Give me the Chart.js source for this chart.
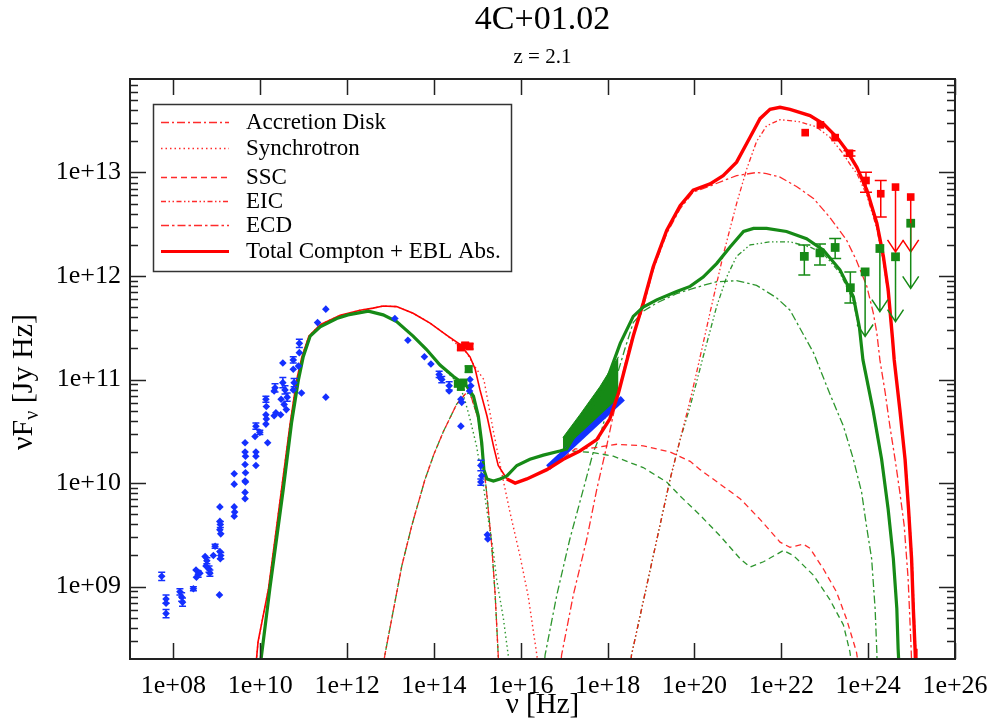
<!DOCTYPE html>
<html><head><meta charset="utf-8">
<script src="https://cdn.jsdelivr.net/npm/chart.js@4.4.0/dist/chart.umd.min.js"></script>
<style>html,body{margin:0;padding:0;background:#fff;}#wrap{width:994px;height:722px;}</style>
</head><body><div id="wrap"><canvas id="c" width="994" height="722"></canvas></div>
<script>
// ---------- DATA (log10 nu [Hz], log10 nuFnu [Jy Hz]) ----------
const titleText = '4C+01.02';
const subTitleText = 'z = 2.1';
const xTitleText = 'ν [Hz]';
const xTickExp = [8,10,12,14,16,18,20,22,24,26];
const yTickExp = [9,10,11,12,13];
const legendLabels = ['Accretion Disk','Synchrotron','SSC','EIC','ECD','Total Compton + EBL Abs.'];

const blueLogNu = [7.73,7.83,7.83,7.83,8.15,8.19,8.21,8.46, 8.52,8.57,8.53,8.61, 8.73,8.77,8.75,8.82,8.84, 8.92,8.96,9.06, 9.07,9.07,9.08,9.07,9.09,9.07,9.09,9.08, 9.40,9.40,9.40,9.41,9.40, 9.65,9.65,9.66,9.65,9.66,9.65,9.66,9.65,9.65, 9.90,9.99,9.88,9.90,9.90,9.90, 10.17, 10.13,10.14,10.13,10.14,10.13, 10.34,10.32,10.32,10.36,10.47, 10.52,10.52,10.57,10.62,10.55,10.60,10.48, 10.76,10.76,10.78,10.76, 10.90,10.90,10.88,10.95, 11.32,11.51,11.51, 13.10,13.40,13.78,13.93, 14.12,14.14,14.18, 14.35,14.35, 14.62,14.64,14.62, 14.83,14.85,14.82, 15.08,15.10,15.08, 15.23,15.24];
const blueLogF = [9.10,8.88,8.84,8.74,8.95,8.90,8.85,8.98, 9.16,9.12,9.09,9.13, 9.29,9.25,9.20,9.17,9.13, 9.30,9.39,8.92, 9.77,9.63,9.60,9.55,9.51,9.34,9.30,9.27, 10.09,9.99,9.77,9.72,9.68, 10.39,10.30,10.26,10.18,10.10,10.02,10.01,9.91,9.85, 10.55,10.49,10.45,10.30,10.26,10.17, 10.39, 10.81,10.74,10.66,10.62,10.57, 10.92,10.89,10.65,10.68,10.66, 11.16,10.97,10.90,10.83,10.76,10.71,10.81, 11.19,11.10,10.97,10.90, 11.35,11.26,11.13,10.87, 11.55,11.68,10.83, 11.59,11.38,11.22,11.15, 11.05,11.02,11.00, 10.94,10.89, 10.81,10.78,10.55, 11.00,10.94,10.89, 10.17,10.07,10.01, 9.50,9.46];
const blueErr = [0.04,0.04,0,0.04,0.03,0.04,0.04,0.02, 0,0.03,0,0, 0,0.03,0,0.03,0.03, 0,0.02,0, 0,0,0.03,0,0,0,0.03,0, 0,0,0,0,0, 0,0,0,0,0,0,0,0,0, 0.03,0.02,0,0,0,0, 0, 0.03,0,0,0,0, 0.04,0,0,0,0, 0,0.05,0.04,0.04,0,0,0, 0.03,0,0.04,0, 0.04,0,0,0, 0,0,0, 0,0,0,0, 0.03,0,0.03, 0.04,0, 0,0,0, 0,0,0, 0.05,0,0.03, 0,0];

const blueXray = [[16.63,10.15],[18.35,10.82]];
const bowLogNu = [16.97,17.36,17.82,18.25];
const bowUpLogF = [10.44,10.66,10.93,11.22];
const bowLoLogF = [10.32,10.43,10.61,10.78];

const redOptLogNu = [14.62,14.72,14.82];
const redOptLogF = [11.31,11.33,11.32];
const grnOptLogNu = [14.55,14.62,14.68,14.80];
const grnOptLogF = [10.96,10.93,10.97,11.10];

const redGamLogNu = [22.55,22.90,23.24,23.57,23.95,24.29];
const redGamLogF  = [13.385,13.46,13.337,13.186,12.923,12.795];
const redGamLo    = [13.385,13.46,13.337,13.16,12.81,12.57];
const redGamHi    = [13.385,13.46,13.337,13.21,13.003,12.923];
const redUlLogNu = [24.63,24.98];
const redUlLogF  = [12.859,12.763];
const redUlTip   = [12.234,12.234];

const grnGamLogNu = [22.53,22.89,23.24,23.59];
const grnGamLogF  = [12.19,12.224,12.276,11.887];
const grnGamLo    = [12.01,12.106,12.17,11.74];
const grnGamHi    = [12.30,12.31,12.362,12.04];
const grnUlLogNu = [23.93,24.27,24.63,24.98];
const grnUlLogF  = [12.04,12.266,12.186,12.51];
const grnUlTip   = [11.416,11.657,11.56,11.88];

const redTotal = [[9.88,8.15],[9.95,8.47],[10.19,8.98],[10.49,9.94],[10.69,10.58],[10.84,11.00],[10.96,11.22],[11.12,11.42],[11.38,11.53],[11.84,11.62],[12.30,11.67],[12.60,11.69],[12.83,11.71],[13.14,11.705],[13.52,11.64],[13.91,11.545],[14.29,11.43],[14.60,11.34],[14.83,11.22],[14.95,11.10],[15.06,10.90],[15.22,10.65],[15.37,10.36],[15.48,10.17],[15.68,10.04],[15.87,10.00],[16.14,10.04],[16.60,10.13],[16.98,10.23],[17.36,10.31],[17.75,10.42],[18.05,10.62],[18.25,10.87],[18.59,11.42],[18.82,11.74],[19.05,12.09],[19.36,12.44],[19.67,12.68],[19.97,12.83],[20.36,12.89],[20.66,12.97],[20.97,13.10],[21.28,13.34],[21.51,13.52],[21.74,13.61],[21.97,13.63],[22.20,13.61],[22.66,13.55],[22.97,13.47],[23.28,13.34],[23.51,13.21],[23.74,13.05],[23.97,12.83],[24.20,12.51],[24.35,12.19],[24.46,11.87],[24.56,11.40],[24.60,11.19],[24.73,10.71],[24.85,10.23],[24.93,9.75],[25.00,9.27],[25.04,8.79],[25.08,8.40],[25.10,8.15]];
const grnTotal = [[9.98,8.15],[10.03,8.34],[10.22,8.98],[10.53,9.94],[10.72,10.58],[10.88,11.00],[10.99,11.22],[11.15,11.42],[11.38,11.51],[11.76,11.59],[12.02,11.625],[12.49,11.66],[12.83,11.625],[13.14,11.56],[13.52,11.42],[13.83,11.29],[14.14,11.14],[14.45,11.03],[14.75,10.94],[14.91,10.84],[15.02,10.65],[15.10,10.39],[15.15,10.13],[15.22,10.04],[15.37,10.02],[15.52,10.04],[15.68,10.07],[15.91,10.17],[16.21,10.23],[16.52,10.27],[16.90,10.31],[17.06,10.33],[17.59,10.71],[17.90,10.90],[18.29,11.35],[18.59,11.61],[18.82,11.70],[19.13,11.77],[19.59,11.85],[19.90,11.90],[20.20,11.99],[20.51,12.12],[20.82,12.28],[21.13,12.43],[21.36,12.46],[21.66,12.46],[22.12,12.43],[22.58,12.36],[22.97,12.25],[23.35,12.06],[23.66,11.80],[23.80,11.50],[23.88,11.19],[24.11,10.71],[24.31,10.23],[24.46,9.75],[24.58,9.27],[24.66,8.79],[24.69,8.40],[24.72,8.15]];

const redSyn = [[9.88,8.15],[9.95,8.47],[10.19,8.98],[10.49,9.94],[10.69,10.58],[10.84,11.00],[10.96,11.22],[11.12,11.42],[11.38,11.53],[11.84,11.62],[12.30,11.67],[12.60,11.69],[12.83,11.71],[13.14,11.705],[13.52,11.64],[13.91,11.545],[14.29,11.43],[14.75,11.26],[14.98,11.10],[15.15,11.00],[15.36,10.52],[15.56,10.10],[15.75,9.72],[15.98,9.30],[16.17,8.91],[16.37,8.34],[16.42,8.15]];
const grnSyn = [[9.98,8.15],[10.03,8.34],[10.22,8.98],[10.53,9.94],[10.72,10.58],[10.88,11.00],[10.99,11.22],[11.15,11.42],[11.38,11.51],[11.76,11.59],[12.02,11.625],[12.49,11.66],[12.83,11.625],[13.14,11.56],[13.52,11.42],[13.83,11.29],[14.14,11.14],[14.45,11.01],[14.60,10.93],[14.70,10.82],[14.83,10.62],[14.98,10.36],[15.14,9.97],[15.25,9.65],[15.37,9.33],[15.44,9.08],[15.60,8.69],[15.71,8.34],[15.76,8.15]];
const disk = [[12.80,8.15],[12.87,8.34],[13.06,8.76],[13.26,9.20],[13.49,9.59],[13.79,10.03],[14.00,10.28],[14.22,10.50],[14.52,10.76],[14.72,10.86],[14.83,10.87],[15.02,10.62],[15.14,10.20],[15.22,9.88],[15.33,9.40],[15.41,8.92],[15.48,8.34],[15.50,8.15]];
const redSSC = [[17.00,10.25],[17.25,10.33],[17.67,10.34],[18.21,10.375],[18.82,10.36],[19.44,10.30],[19.90,10.21],[20.13,10.13],[20.59,9.99],[21.05,9.85],[21.51,9.65],[21.97,9.43],[22.20,9.38],[22.51,9.41],[22.66,9.37],[22.97,9.17],[23.27,8.95],[23.50,8.69],[23.73,8.37],[23.81,8.15]];
const grnSSC = [[16.97,10.31],[17.17,10.31],[17.67,10.295],[18.13,10.26],[18.82,10.15],[19.36,10.01],[19.67,9.875],[20.13,9.69],[20.59,9.49],[21.05,9.27],[21.28,9.19],[21.59,9.24],[22.05,9.35],[22.28,9.30],[22.74,9.11],[23.11,8.88],[23.43,8.63],[23.58,8.37],[23.65,8.15]];
const redEIC = [[18.50,8.15],[18.55,8.34],[19.00,9.20],[19.44,10.04],[19.67,10.42],[19.90,10.80],[20.05,11.07],[20.36,11.65],[20.66,12.20],[20.97,12.70],[21.20,13.03],[21.43,13.30],[21.66,13.45],[21.97,13.51],[22.43,13.49],[22.81,13.44],[23.12,13.34],[23.43,13.18],[23.58,13.08],[23.74,12.99],[23.97,12.78],[24.20,12.46],[24.35,12.14],[24.46,11.82],[24.56,11.36],[24.62,11.10],[24.75,10.66],[24.87,10.18],[24.95,9.70],[25.02,9.22],[25.06,8.74],[25.10,8.36],[25.12,8.15]];
const grnEIC = [[18.50,8.15],[18.55,8.34],[19.00,9.20],[19.44,10.04],[19.67,10.42],[19.90,10.74],[20.20,11.22],[20.51,11.705],[20.74,11.99],[20.97,12.19],[21.28,12.30],[21.74,12.33],[22.20,12.33],[22.66,12.28],[22.96,12.22],[23.35,12.03],[23.65,11.77],[23.80,11.48],[23.88,11.17],[24.11,10.69],[24.31,10.21],[24.46,9.73],[24.58,9.25],[24.66,8.77],[24.69,8.38],[24.71,8.15]];
const redECD = [[16.90,8.15],[16.94,8.34],[17.21,8.92],[17.52,9.46],[17.75,9.94],[17.98,10.36],[18.09,10.58],[18.21,10.81],[18.51,11.34],[18.82,11.70],[19.05,12.06],[19.36,12.41],[19.67,12.65],[19.97,12.81],[20.36,12.87],[20.66,12.92],[20.97,12.97],[21.43,13.00],[21.66,12.99],[21.97,12.955],[22.35,12.865],[22.74,12.75],[23.11,12.57],[23.50,12.35],[23.73,12.15],[23.97,11.90],[24.12,11.64],[24.20,11.45],[24.27,11.19],[24.39,10.88],[24.50,10.55],[24.62,10.23],[24.73,9.91],[24.83,9.59],[24.92,9.08],[24.99,8.40],[25.01,8.15]];
const grnECD = [[16.52,8.15],[16.56,8.34],[16.83,8.92],[17.13,9.46],[17.44,9.94],[17.67,10.30],[17.82,10.45],[18.00,10.72],[18.20,11.02],[18.40,11.30],[18.59,11.55],[18.82,11.66],[19.13,11.74],[19.59,11.83],[19.90,11.87],[20.20,11.91],[20.51,11.945],[20.97,11.955],[21.43,11.91],[21.89,11.79],[22.20,11.67],[22.74,11.26],[23.11,10.87],[23.43,10.55],[23.66,10.23],[23.85,9.91],[23.96,9.59],[24.08,9.27],[24.16,8.79],[24.20,8.37],[24.21,8.15]];

// ---------- STYLE ----------
const FONT = "'Liberation Serif', 'Times New Roman', serif";
const RED = '#ff0000', GRN = '#168a16', BLU = '#1430ff';
const cRed = 'rgba(255,20,20,0.9)', cGrn = 'rgba(22,138,22,0.9)';
const DASH = {disk:[8,3,2,3], syn:[1.5,3], ssc:[6,4], eic:[5,2.5,1.5,2.5,1.5,2.5], ecd:[8,3,2.5,3]};

const pw = a => a.map(p => ({x: Math.pow(10, p[0]), y: Math.pow(10, p[1])}));
const pw2 = (xs, ys) => xs.map((v, i) => ({x: Math.pow(10, v), y: Math.pow(10, ys[i])}));

function lineDS(data, color, width, dash, order, offset) {
  return {data: pw(data), showLine: true, borderColor: color, borderWidth: width, borderDash: dash || [],
    borderDashOffset: offset || 0, pointRadius: 0, fill: false, order: order, tension: 0, borderCapStyle: 'butt'};
}
const datasets = [];
datasets.push(lineDS(disk, cRed, 1.3, DASH.disk, 30));
datasets.push(lineDS(disk, cGrn, 1.3, DASH.disk, 31, 7));
datasets.push(lineDS(redSyn, cRed, 1.4, DASH.syn, 30));
datasets.push(lineDS(grnSyn, cGrn, 1.4, DASH.syn, 30));
datasets.push(lineDS(redSSC, cRed, 1.3, DASH.ssc, 30));
datasets.push(lineDS(grnSSC, cGrn, 1.3, DASH.ssc, 30));
datasets.push(lineDS(redEIC, cRed, 1.3, DASH.eic, 30));
datasets.push(lineDS(grnEIC, cGrn, 1.3, DASH.eic, 30));
datasets.push(lineDS(redECD, cRed, 1.3, DASH.ecd, 30));
datasets.push(lineDS(grnECD, cGrn, 1.3, DASH.ecd, 30));
const loIdx = datasets.length;
datasets.push({data: pw2(bowLogNu, bowLoLogF), showLine: true, borderColor: GRN, borderWidth: 1, pointRadius: 0, fill: false, order: 20});
datasets.push({data: pw2(bowLogNu, bowUpLogF), showLine: true, borderColor: GRN, borderWidth: 1, pointRadius: 0, fill: {target: loIdx}, backgroundColor: GRN, order: 20});
datasets.push({data: pw(blueXray), showLine: true, borderColor: BLU, borderWidth: 6, pointRadius: 0, order: 19, borderCapStyle: 'butt'});
datasets.push({data: pw(redTotal), showLine: true, borderColor: RED, borderWidth: 3.2, pointRadius: 0, order: 11, tension: 0,
  segment: {borderWidth: c => (c.p0.parsed.x < Math.pow(10, 15.55) ? 1.6 : 3.4)}});
datasets.push({data: pw(grnTotal), showLine: true, borderColor: GRN, borderWidth: 3.2, pointRadius: 0, order: 10, tension: 0});
datasets.push({data: pw2(blueLogNu, blueLogF), showLine: false, pointStyle: 'rectRot', pointRadius: 3.8, backgroundColor: BLU, borderWidth: 0, order: 3});
datasets.push({data: pw2(redOptLogNu, redOptLogF), showLine: false, pointStyle: 'rect', pointRadius: 5.6, backgroundColor: RED, borderWidth: 0, order: 2});
datasets.push({data: pw2(grnOptLogNu, grnOptLogF), showLine: false, pointStyle: 'rect', pointRadius: 5.6, backgroundColor: GRN, borderWidth: 0, order: 2});
datasets.push({data: pw2(redGamLogNu.concat(redUlLogNu), redGamLogF.concat(redUlLogF)), showLine: false, pointStyle: 'rect', pointRadius: 5.4, backgroundColor: RED, borderWidth: 0, order: 2});
datasets.push({data: pw2(grnGamLogNu.concat(grnUlLogNu), grnGamLogF.concat(grnUlLogF)), showLine: false, pointStyle: 'rect', pointRadius: 6.2, backgroundColor: GRN, borderWidth: 0, order: 2});

// ---------- PLUGINS ----------
const P10 = v => Math.pow(10, v);
const frame = {
  id: 'frame',
  afterDatasetsDraw(chart) {
    const {ctx, chartArea: a, scales: {x, y}} = chart;
    ctx.save();
    function bar(xs, lo, hi, col, cap) {
      ctx.strokeStyle = col; ctx.lineWidth = 1.5; ctx.beginPath();
      xs.forEach((v, i) => {
        if (hi[i] - lo[i] < 0.001) return;
        const px = x.getPixelForValue(P10(v)), p1 = y.getPixelForValue(P10(lo[i])), p2 = y.getPixelForValue(P10(hi[i]));
        ctx.moveTo(px, p1); ctx.lineTo(px, p2);
        ctx.moveTo(px - cap, p1); ctx.lineTo(px + cap, p1);
        ctx.moveTo(px - cap, p2); ctx.lineTo(px + cap, p2);
      });
      ctx.stroke();
    }
    function ul(xs, fs, tips, col) {
      ctx.strokeStyle = col; ctx.lineWidth = 1.5; ctx.beginPath();
      xs.forEach((v, i) => {
        const px = x.getPixelForValue(P10(v)), p1 = y.getPixelForValue(P10(fs[i])), p2 = y.getPixelForValue(P10(tips[i]));
        ctx.moveTo(px, p1); ctx.lineTo(px, p2);
        ctx.moveTo(px - 8, p2 - 12); ctx.lineTo(px, p2); ctx.lineTo(px + 8, p2 - 12);
      });
      ctx.stroke();
    }
    bar(blueLogNu, blueLogF.map((f, i) => f - blueErr[i]), blueLogF.map((f, i) => f + blueErr[i]), BLU, 3.5);
    bar(redOptLogNu, redOptLogF.map(f => f - 0.025), redOptLogF.map(f => f + 0.025), RED, 4);
    bar(grnOptLogNu, grnOptLogF.map(f => f - 0.03), grnOptLogF.map(f => f + 0.03), GRN, 4);
    bar(redGamLogNu, redGamLo, redGamHi, RED, 6);
    bar(grnGamLogNu, grnGamLo, grnGamHi, GRN, 6);
    ul(redUlLogNu, redUlLogF, redUlTip, RED);
    ul(grnUlLogNu, grnUlLogF, grnUlTip, GRN);
    ctx.strokeStyle = '#222'; ctx.lineWidth = 2;
    ctx.strokeRect(a.left, a.top, a.right - a.left, a.bottom - a.top);
    ctx.lineWidth = 1.5; ctx.beginPath();
    xTickExp.forEach(e => {
      const px = Math.round(x.getPixelForValue(P10(e))) + 0.5;
      ctx.moveTo(px, a.bottom); ctx.lineTo(px, a.bottom - 16);
      ctx.moveTo(px, a.top); ctx.lineTo(px, a.top + 16);
    });
    for (let e = 8; e <= 13; e++) {
      for (let m = 1; m <= 9; m++) {
        const v = m * P10(e);
        if (v <= y.min || v >= y.max) continue;
        const py = Math.round(y.getPixelForValue(v)) + 0.5;
        const len = m === 1 ? 16 : 8;
        ctx.moveTo(a.left, py); ctx.lineTo(a.left + len, py);
        ctx.moveTo(a.right, py); ctx.lineTo(a.right - len, py);
      }
    }
    ctx.stroke();
    ctx.restore();
  },
  afterDraw(chart) {
    const {ctx, chartArea: a} = chart;
    const cx = (a.left + a.right) / 2;
    ctx.save();
    ctx.fillStyle = '#000'; ctx.textAlign = 'center'; ctx.textBaseline = 'middle';
    ctx.font = '34px ' + FONT; ctx.fillText(titleText, cx, 20);
    ctx.font = '21px ' + FONT; ctx.fillText(subTitleText, cx, 57);
    ctx.font = '29px ' + FONT; ctx.fillText(xTitleText, cx, 705);
    ctx.save();
    ctx.translate(24, 382); ctx.rotate(-Math.PI / 2);
    ctx.textAlign = 'left';
    ctx.font = '30px ' + FONT; const w1 = ctx.measureText('νF').width, w3 = ctx.measureText(' [Jy Hz]').width;
    ctx.font = '20px ' + FONT; const w2 = ctx.measureText('ν').width;
    let x0 = -(w1 + w2 + w3) / 2;
    ctx.font = '30px ' + FONT; ctx.fillText('νF', x0, 0);
    ctx.font = '20px ' + FONT; ctx.fillText('ν', x0 + w1, 9);
    ctx.font = '30px ' + FONT; ctx.fillText(' [Jy Hz]', x0 + w1 + w2, 0);
    ctx.restore();
    const bx = 153, by = 104, bw = 358, bh = 167;
    ctx.fillStyle = '#fff'; ctx.fillRect(bx, by, bw, bh);
    ctx.strokeStyle = '#333'; ctx.lineWidth = 1.5; ctx.strokeRect(bx + 0.5, by + 0.5, bw, bh);
    const rows = [122, 148, 177, 201, 225, 251];
    const styles = [[DASH.disk, 1.3], [DASH.syn, 1.4], [DASH.ssc, 1.3], [DASH.eic, 1.3], [DASH.ecd, 1.3], [[], 3.2]];
    ctx.textAlign = 'left'; ctx.textBaseline = 'middle'; ctx.font = '23px ' + FONT;
    legendLabels.forEach((t, i) => {
      ctx.save();
      ctx.strokeStyle = i === 5 ? RED : cRed; ctx.lineWidth = styles[i][1]; ctx.setLineDash(styles[i][0]);
      ctx.beginPath(); ctx.moveTo(161, rows[i] + 0.5); ctx.lineTo(229, rows[i] + 0.5); ctx.stroke();
      ctx.restore();
      ctx.fillStyle = '#000'; ctx.fillText(t, 246, rows[i] + 1);
    });
    ctx.restore();
  }
};

const fmtExp = v => { const e = Math.round(Math.log10(v)); return '1e+' + String(e).padStart(2, '0'); };

new Chart(document.getElementById('c'), {
  type: 'scatter',
  data: {datasets},
  options: {
    responsive: false, animation: false, devicePixelRatio: 1,
    layout: {padding: {left: 0, right: 39, top: 79, bottom: 0}},
    plugins: {legend: {display: false}, tooltip: {enabled: false}, title: {display: false}},
    scales: {
      x: {type: 'logarithmic', position: 'bottom', min: 1e7, max: 1e26,
        grid: {display: false, drawTicks: false}, border: {display: false},
        afterBuildTicks: s => { s.ticks = xTickExp.map(e => ({value: P10(e)})); },
        afterFit: s => { s.height = 63; s.paddingLeft = 0; s.paddingRight = 0; },
        ticks: {autoSkip: false, maxRotation: 0, minRotation: 0, padding: 12, color: '#000', font: {family: FONT, size: 26}, callback: v => fmtExp(v)}},
      y: {type: 'logarithmic', position: 'left', min: 2e8, max: 8e13,
        grid: {display: false, drawTicks: false}, border: {display: false},
        afterBuildTicks: s => { s.ticks = yTickExp.map(e => ({value: P10(e)})); },
        afterFit: s => { s.width = 130; s.paddingTop = 0; s.paddingBottom = 0; },
        ticks: {autoSkip: false, padding: 9, color: '#000', font: {family: FONT, size: 26}, callback: v => fmtExp(v)}}
    }
  },
  plugins: [frame]
});
</script></body></html>
